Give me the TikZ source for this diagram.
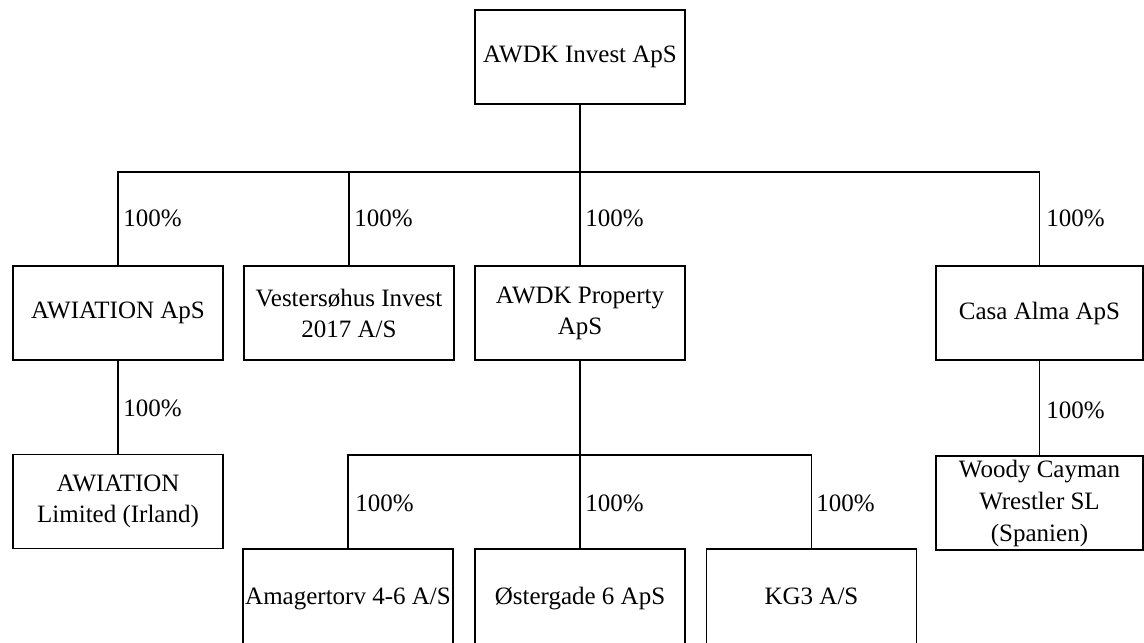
\documentclass[tikz,border=0pt]{standalone}
\usepackage{fontspec}
\setmainfont{Liberation Serif}
\begin{document}
\begin{tikzpicture}[x=0.5pt,y=-0.5pt,
  company/.style={draw,line width=0.9pt,rectangle,inner sep=0pt,
    minimum width=105pt,minimum height=47pt,align=center,
    font=\fontsize{12.5}{15.5}\selectfont},
  bottombox/.style={company,minimum height=49pt},
  link/.style={line width=0.8pt},
  pct/.style={anchor=west,inner sep=1pt,font=\fontsize{12.5}{15}\selectfont}]
\useasboundingbox (0,0) rectangle (1144,642);
% nodes
\node[company] (top)  at (580,57)     {AWDK Invest ApS};
\node[company] (aws)  at (118,313)    {AWIATION ApS};
\node[company] (ves)  at (349,313)    {Vestersøhus Invest\\2017 A/S};
\node[company] (prop) at (580,313)    {AWDK Property\\ApS};
\node[company,minimum width=103.5pt] (casa) at (1039.5,313) {Casa Alma ApS};
\node[company] (awl)  at (118,501.5)  {AWIATION\\Limited (Irland)};
\node[company,minimum width=103.5pt,font=\fontsize{12.5}{16}\selectfont] (woody) at (1039.5,503) {Woody Cayman\\Wrestler SL\\(Spanien)};
\node[bottombox] (amag) at (348,598)    {\strut Amagertorv 4-6 A/S};
\node[bottombox] (ost)  at (580,598)    {\strut Østergade 6 ApS};
\node[bottombox] (kg)   at (811.5,598)  {\strut KG3 A/S};
% bus coordinates
\coordinate (bus1) at (580,172);
\coordinate (bus2) at (580,455);
% connectors level 1
\draw[link] (top.south) -- (bus1);
\draw[link] (aws.north) -- (aws.north |- bus1) -- (casa.north |- bus1) -- (casa.north);
\draw[link] (ves.north) -- (ves.north |- bus1);
\draw[link] (prop.north) -- (prop.north |- bus1);
% AWIATION
\draw[link] (aws.south) -- (awl.north);
% Casa
\draw[link] (casa.south) -- (woody.north);
% Property
\draw[link] (prop.south) -- (bus2);
\draw[link] (amag.north) -- (amag.north |- bus2) -- (kg.north |- bus2) -- (kg.north);
\draw[link] (ost.north) -- (ost.north |- bus2);
% labels
\node[pct] (p1) at (121,218) {100\%};
\node[pct] (p2) at (352,218) {100\%};
\node[pct] (p3) at (583,218) {100\%};
\node[pct] (p4) at (1044,218) {100\%};
\node[pct] (p5) at (121,408) {100\%};
\node[pct] (p6) at (1044,410) {100\%};
\node[pct] (p7) at (353,503) {100\%};
\node[pct] (p8) at (583,503) {100\%};
\node[pct] (p9) at (814,503) {100\%};
\end{tikzpicture}
\end{document}
